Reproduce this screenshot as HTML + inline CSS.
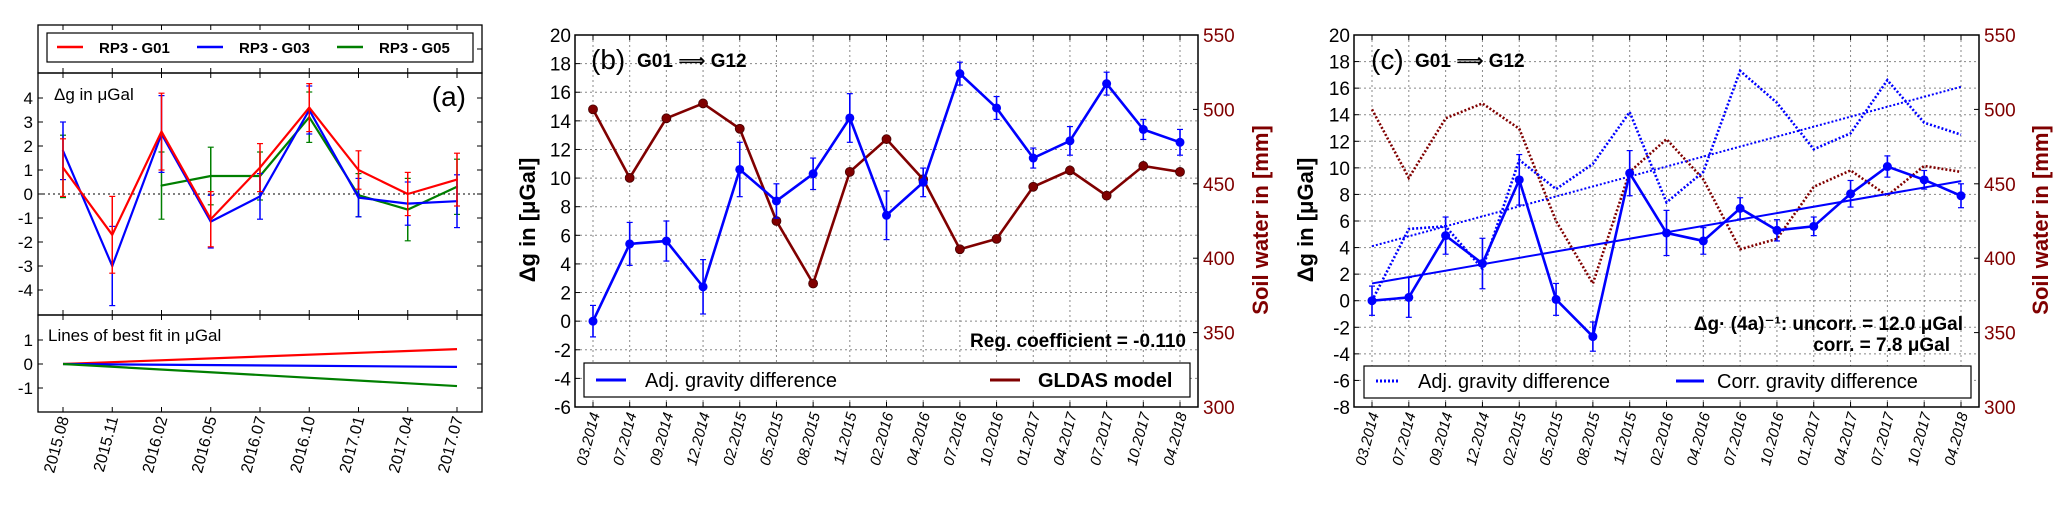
<!DOCTYPE html>
<html><head><meta charset="utf-8">
<style>
body{margin:0;background:#fff;}
svg{display:block;font-family:"Liberation Sans","DejaVu Sans",sans-serif;}
</style></head>
<body>
<svg id="fig" width="2067" height="513" viewBox="0 0 2067 513" xmlns="http://www.w3.org/2000/svg"></svg>
<script>
// ---------- Panel (a) data ----------
const aCategories = ["2015.08","2015.11","2016.02","2016.05","2016.07","2016.10","2017.01","2017.04","2017.07"];
const aG01 = [1.1,-1.7,2.6,-1.05,1.1,3.6,1.0,0.0,0.6];
const aG01Err = [1.2,1.6,1.6,1.15,1.0,1.0,0.8,0.9,1.1];
const aG03 = [1.8,-3.0,2.5,-1.15,-0.1,3.5,-0.15,-0.4,-0.3];
const aG03Err = [1.2,1.65,1.6,1.1,0.95,1.0,0.8,0.9,1.1];
const aG05 = [1.15,null,0.35,0.75,0.75,3.2,-0.05,-0.65,0.3];
const aG05Err = [1.3,null,1.4,1.2,1.0,1.05,0.9,1.3,1.15];
const aFitEnd = [0.62,-0.12,-0.92]; // G01, G03, G05 best-fit value at last epoch
const aYTicks = [-4,-3,-2,-1,0,1,2,3,4];
const aFitTicks = [-1,0,1];
// ---------- Panel (b)/(c) data ----------
const bcCategories = ["03.2014","07.2014","09.2014","12.2014","02.2015","05.2015","08.2015","11.2015","02.2016","04.2016","07.2016","10.2016","01.2017","04.2017","07.2017","10.2017","04.2018"];
const adjGravity = [0,5.4,5.6,2.4,10.6,8.4,10.3,14.2,7.4,9.7,17.3,14.9,11.4,12.6,16.6,13.4,12.5];
const adjGravityErr = [1.1,1.5,1.4,1.9,1.9,1.2,1.1,1.7,1.7,1.0,0.8,0.8,0.7,1.0,0.8,0.7,0.9];
const gldasSoilWater = [500,454,494,504,487,425,383,458,480,453,406,413,448,459,442,462,458];
const corrGravity = [0,0.25,4.9,2.8,9.1,0.1,-2.7,9.6,5.1,4.5,6.95,5.3,5.6,8.05,10.1,9.1,7.9];
const corrGravityErr = [1.1,1.5,1.4,1.9,1.9,1.2,1.1,1.7,1.7,1.0,0.8,0.8,0.7,1.0,0.8,0.7,0.9];
const adjFit = [4.1,16.1];
const corrFit = [1.3,9.0];
const bYTicks = [-6,-4,-2,0,2,4,6,8,10,12,14,16,18,20];
const cYTicks = [-8,-6,-4,-2,0,2,4,6,8,10,12,14,16,18,20];
const soilTicks = [300,350,400,450,500,550];

const NS="http://www.w3.org/2000/svg";
const svg=document.getElementById('fig');
function el(tag,attrs,parent,text){const e=document.createElementNS(NS,tag);for(const k in attrs)e.setAttribute(k,attrs[k]);if(text!==undefined)e.textContent=text;(parent||svg).appendChild(e);return e;}
function pts(xs,ys){return xs.map((x,i)=>x+","+ys[i]).join(" ");}

const RED="#ff0000",BLUE="#0000ff",GREEN="#007f00",DRED="#800000";

// =================== Panel (a) ===================
const gA=el('g',{});


const aL=38,aR=482;
const ax=i=>63+i*(457-63)/8;
const ay=v=>194-v*24;
const fy=v=>364-v*24;
// frames
el('rect',{x:aL,y:25,width:aR-aL,height:48,fill:'none',stroke:'#000','stroke-width':1.3},gA);
el('rect',{x:aL,y:73,width:aR-aL,height:242,fill:'none',stroke:'#000','stroke-width':1.3},gA);
el('rect',{x:aL,y:315,width:aR-aL,height:97,fill:'none',stroke:'#000','stroke-width':1.3},gA);
// legend
const lgA=el('g',{},gA);


el('rect',{x:47,y:33,width:426,height:29,fill:'#fff',stroke:'#000','stroke-width':1.2},lgA);
[["RP3 - G01",RED,57],["RP3 - G03",BLUE,197],["RP3 - G05",GREEN,337]].forEach(([t,c,x])=>{
  const g=el('g',{},lgA);
  
  
  el('line',{x1:x,y1:47,x2:x+26,y2:47,stroke:c,'stroke-width':2.5},g);
  el('text',{x:x+42,y:53,'font-size':15,'font-weight':'bold'},g,t);
});
// ticks
aYTicks.forEach(v=>{
  el('line',{x1:aL,y1:ay(v),x2:aL+5,y2:ay(v),stroke:'#000'},gA);
  el('line',{x1:aR-5,y1:ay(v),x2:aR,y2:ay(v),stroke:'#000'},gA);
  const t=el('text',{x:aL-5,y:ay(v)+6,'font-size':17,'text-anchor':'end'},gA,String(v));
  
  
});
aFitTicks.forEach(v=>{
  el('line',{x1:aL,y1:fy(v),x2:aL+5,y2:fy(v),stroke:'#000'},gA);
  el('line',{x1:aR-5,y1:fy(v),x2:aR,y2:fy(v),stroke:'#000'},gA);
  el('text',{x:aL-5,y:fy(v)+6,'font-size':17,'text-anchor':'end'},gA,String(v));
});
el('line',{x1:aR-5,y1:49,x2:aR,y2:49,stroke:'#000'},gA);
aCategories.forEach((c,i)=>{
  const x=ax(i);
  [25,73,315].forEach(y0=>el('line',{x1:x,y1:y0,x2:x,y2:y0+5,stroke:'#000'},gA));
  [73,315,412].forEach(y0=>el('line',{x1:x,y1:y0-5,x2:x,y2:y0,stroke:'#000'},gA));
  const t=el('text',{x:0,y:0,'font-size':16,'text-anchor':'end',transform:`translate(${x+6},${418}) rotate(-75)`},gA,c);
  
  
});
el('line',{x1:aL,y1:ay(0),x2:aR,y2:ay(0),stroke:'#000','stroke-width':1,'stroke-dasharray':'2,3'},gA);
el('text',{x:54,y:100,'font-size':17},gA,"Δg in ").appendChild(document.createElementNS(NS,'tspan')).textContent="μGal";
const ta=el('text',{x:466,y:106,'font-size':28,'text-anchor':'end'},gA,"(a)");


el('text',{x:48,y:341,'font-size':17},gA,"Lines of best fit in μGal");
function seriesA(vals,errs,col,name){
  const g=el('g',{},gA);
  
  
  vals.forEach((v,i)=>{
    if(v===null)return;
    const x=ax(i),e=errs[i];
    el('line',{x1:x,y1:ay(v-e),x2:x,y2:ay(v+e),stroke:col,'stroke-width':1.5},g);
    el('line',{x1:x-3,y1:ay(v-e),x2:x+3,y2:ay(v-e),stroke:col,'stroke-width':1.2},g);
    el('line',{x1:x-3,y1:ay(v+e),x2:x+3,y2:ay(v+e),stroke:col,'stroke-width':1.2},g);
  });
  for(let i=0;i<vals.length-1;i++){
    if(vals[i]===null||vals[i+1]===null)continue;
    el('line',{x1:ax(i),y1:ay(vals[i]),x2:ax(i+1),y2:ay(vals[i+1]),stroke:col,'stroke-width':2.2,'stroke-linecap':'round'},g);
  }
}
seriesA(aG05,aG05Err,GREEN,'series-g05');
seriesA(aG03,aG03Err,BLUE,'series-g03');
seriesA(aG01,aG01Err,RED,'series-g01');
[[RED,0],[BLUE,1],[GREEN,2]].forEach(([c,k])=>{
  const l=el('line',{x1:ax(0),y1:fy(0),x2:ax(8),y2:fy(aFitEnd[k]),stroke:c,'stroke-width':2.2},gA);
  
  
});

// =================== Shared helpers for (b),(c) ===================
function panel(name,L,R,ymin,ymax,yticks){
  const g=el('g',{});
  
  
  const T=35,B=407;
  const xs=i=>L+18+i*(R-18-(L+18)+0)/16*1; 
  const X=i=>(L+18)+i*((R-18)-(L+18))/16;
  const Y=v=>B-(v-ymin)*(B-T)/(ymax-ymin);
  const S=v=>B-(v-300)*(B-T)/250;
  // grid
  yticks.forEach(v=>{
    el('line',{x1:L,y1:Y(v),x2:R,y2:Y(v),stroke:'#888','stroke-width':1,'stroke-dasharray':'2,3'},g);
    el('line',{x1:L,y1:Y(v),x2:L+5,y2:Y(v),stroke:'#000'},g);
    const t=el('text',{x:L-4,y:Y(v)+7,'font-size':19,'text-anchor':'end'},g,String(v));
    
    
  });
  soilTicks.forEach(v=>{
    el('line',{x1:R-5,y1:S(v),x2:R,y2:S(v),stroke:'#000'},g);
    const t=el('text',{x:R+5,y:S(v)+7,'font-size':19,fill:DRED},g,String(v));
    
    
  });
  bcCategories.forEach((c,i)=>{
    const x=X(i);
    el('line',{x1:x,y1:T,x2:x,y2:B,stroke:'#888','stroke-width':1,'stroke-dasharray':'2,3'},g);
    el('line',{x1:x,y1:B-5,x2:x,y2:B,stroke:'#000'},g);
    el('line',{x1:x,y1:T,x2:x,y2:T+5,stroke:'#000'},g);
    const t=el('text',{x:0,y:0,'font-size':15,'font-style':'italic','text-anchor':'end',transform:`translate(${x+7},${414}) rotate(-75)`},g,c);
    
    
  });
  return {g,X,Y,S,T,B};
}
function errSeries(g,X,Y,vals,errs,col,name,dots){
  const s=el('g',{},g);
  
  
  vals.forEach((v,i)=>{
    const x=X(i),e=errs[i];
    el('line',{x1:x,y1:Y(v-e),x2:x,y2:Y(v+e),stroke:col,'stroke-width':1.6},s);
    el('line',{x1:x-3,y1:Y(v-e),x2:x+3,y2:Y(v-e),stroke:col,'stroke-width':1.2},s);
    el('line',{x1:x-3,y1:Y(v+e),x2:x+3,y2:Y(v+e),stroke:col,'stroke-width':1.2},s);
  });
  el('polyline',{points:pts(vals.map((_,i)=>X(i)),vals.map(Y)),fill:'none',stroke:col,'stroke-width':2.6},s);
  if(dots) vals.forEach((v,i)=>el('circle',{cx:X(i),cy:Y(v),r:4.5,fill:col},s));
}

// =================== Panel (b) ===================
const pb=panel('panel-b',575,1198,-6,20,bYTicks);
const gl=el('g',{},pb.g);


el('polyline',{points:pts(gldasSoilWater.map((_,i)=>pb.X(i)),gldasSoilWater.map(pb.S)),fill:'none',stroke:DRED,'stroke-width':2.6},gl);
gldasSoilWater.forEach((v,i)=>el('circle',{cx:pb.X(i),cy:pb.S(v),r:4.5,fill:DRED,stroke:'#400','stroke-width':0.8},gl));
errSeries(pb.g,pb.X,pb.Y,adjGravity,adjGravityErr,BLUE,'series-adj-gravity',true);
el('rect',{x:575,y:35,width:623,height:372,fill:'none',stroke:'#000','stroke-width':1.5},pb.g);
el('text',{x:591,y:69,'font-size':28},pb.g,"(b)");
el('text',{x:637,y:67,'font-size':19,'font-weight':'bold'},pb.g,"G01 ⟹ G12");
el('text',{x:1186,y:347,'font-size':19,'font-weight':'bold','text-anchor':'end'},pb.g,"Reg. coefficient = -0.110");
const lgb=el('g',{},pb.g);


el('rect',{x:584,y:363,width:606,height:34,fill:'#fff',stroke:'#000','stroke-width':1.2},lgb);
el('line',{x1:596,y1:380,x2:626,y2:380,stroke:BLUE,'stroke-width':3},lgb);
el('text',{x:645,y:387,'font-size':20},lgb,"Adj. gravity difference");
el('line',{x1:990,y1:380,x2:1020,y2:380,stroke:DRED,'stroke-width':3},lgb);
el('text',{x:1038,y:387,'font-size':20,'font-weight':'bold'},lgb,"GLDAS model");
const ylb=el('text',{x:0,y:0,'font-size':22,'font-weight':'bold','text-anchor':'middle',transform:'translate(535,220) rotate(-90)'},pb.g,"Δg in [μGal]");


const ylbr=el('text',{x:0,y:0,'font-size':22,'font-weight':'bold',fill:DRED,'text-anchor':'middle',transform:'translate(1268,220) rotate(-90)'},pb.g,"Soil water in [mm]");



// =================== Panel (c) ===================
const pc=panel('panel-c',1354,1979,-8,20,cYTicks);
const gd=el('polyline',{points:pts(gldasSoilWater.map((_,i)=>pc.X(i)),gldasSoilWater.map(pc.S)),fill:'none',stroke:DRED,'stroke-width':2.6,'stroke-dasharray':'2,2'},pc.g);


const ad=el('polyline',{points:pts(adjGravity.map((_,i)=>pc.X(i)),adjGravity.map(pc.Y)),fill:'none',stroke:BLUE,'stroke-width':2.6,'stroke-dasharray':'2,2'},pc.g);


const af=el('line',{x1:pc.X(0),y1:pc.Y(adjFit[0]),x2:pc.X(16),y2:pc.Y(adjFit[1]),stroke:BLUE,'stroke-width':2,'stroke-dasharray':'2,2'},pc.g);


const cf=el('line',{x1:pc.X(0),y1:pc.Y(corrFit[0]),x2:pc.X(16),y2:pc.Y(corrFit[1]),stroke:BLUE,'stroke-width':2},pc.g);


errSeries(pc.g,pc.X,pc.Y,corrGravity,corrGravityErr,BLUE,'series-corr-gravity',true);
el('rect',{x:1354,y:35,width:625,height:372,fill:'none',stroke:'#000','stroke-width':1.5},pc.g);
el('text',{x:1371,y:69,'font-size':28},pc.g,"(c)");
el('text',{x:1415,y:67,'font-size':19,'font-weight':'bold'},pc.g,"G01 ⟹ G12");
el('text',{x:1963,y:330,'font-size':19,'font-weight':'bold','text-anchor':'end'},pc.g,"Δg· (4a)⁻¹: uncorr. = 12.0 μGal");
el('text',{x:1950,y:351,'font-size':19,'font-weight':'bold','text-anchor':'end'},pc.g,"corr. = 7.8 μGal");
const lgc=el('g',{},pc.g);


el('rect',{x:1364,y:366,width:607,height:32,fill:'#fff',stroke:'#000','stroke-width':1.2},lgc);
el('line',{x1:1376,y1:381,x2:1400,y2:381,stroke:BLUE,'stroke-width':3,'stroke-dasharray':'2,2'},lgc);
el('text',{x:1418,y:388,'font-size':20},lgc,"Adj. gravity difference");
el('line',{x1:1676,y1:381,x2:1704,y2:381,stroke:BLUE,'stroke-width':3},lgc);
el('text',{x:1717,y:388,'font-size':20},lgc,"Corr. gravity difference");
const ylc=el('text',{x:0,y:0,'font-size':22,'font-weight':'bold','text-anchor':'middle',transform:'translate(1313,220) rotate(-90)'},pc.g,"Δg in [μGal]");


const ylcr=el('text',{x:0,y:0,'font-size':22,'font-weight':'bold',fill:DRED,'text-anchor':'middle',transform:'translate(2048,220) rotate(-90)'},pc.g,"Soil water in [mm]");


</script>
</body></html>
